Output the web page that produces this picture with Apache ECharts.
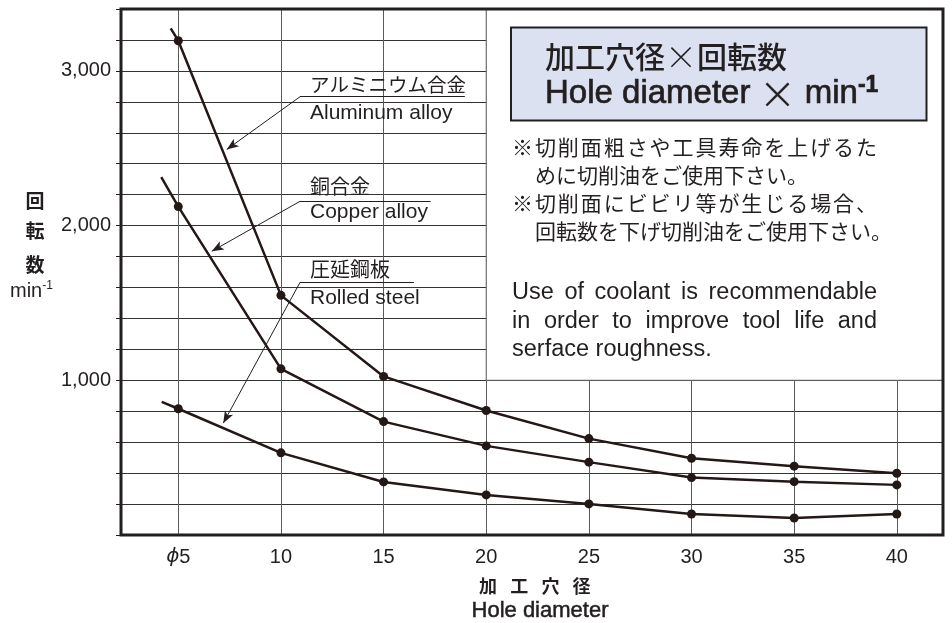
<!DOCTYPE html>
<html><head><meta charset="utf-8">
<script src="https://cdn.jsdelivr.net/npm/echarts@6/dist/echarts.min.js"></script>
<style>html,body{margin:0;padding:0;background:#fff}#c{width:952px;height:623px}</style>
</head><body><div id="c"></div><script>
// ---- data ----
const holeDiameters = [5, 10, 15, 20, 25, 30, 35, 40];
const xTickLabels = ['ϕ5', '10', '15', '20', '25', '30', '35', '40'];
const aluminum = [3195, 1549, 1025, 805, 623, 496, 445, 399];
const copper = [2123, 1074, 733, 576, 471, 371, 345, 324];
const rolledSteel = [816, 531, 343, 259, 201, 136, 110, 136];
// start of each drawn curve, a little left of the first point
const aluminumLead = [4.63, 3275];
const copperLead = [4.17, 2313];
const rolledSteelLead = [4.19, 861];
const yLabelValues = [1000, 2000, 3000];
// leader lines: underline end, knee, arrow tip (data coords)
const aluminumLeader = [[18.96, 2833], [10.93, 2833], [7.36, 2492]];
const copperLeader = [[17.29, 2157], [10.93, 2157], [6.63, 1834]];
const rolledSteelLeader = [[16.48, 1633], [10.93, 1633], [7.19, 723]];
// white note panel corner (data coords)
const panelFrom = [20, 1000];

const X_MIN = 2.209, X_MAX = 42.25, Y_MIN = 0, Y_MAX = 3400;
const INK = '#231f20';
const LAT = '"Liberation Sans", Arial, Helvetica, sans-serif';
const JP = '"Noto Sans CJK JP", sans-serif';

const cv = document.createElement('canvas').getContext('2d');
function tw(t, font) { cv.font = font; return cv.measureText(t).width; }

function txt(t, x, y, font, opts) {
  opts = opts || {};
  const st = { text: t, x: x, y: y, font: font, fill: INK, textVerticalAlign: 'middle', textAlign: opts.align || 'left' };
  if (opts.stroke) { st.stroke = INK; st.lineWidth = opts.stroke; }
  if (opts.rich) st.rich = opts.rich;
  return { type: 'text', z: 100, silent: true, style: st };
}
function justify(tokens, x0, x1, y, font) {
  const w = tokens.map(t => tw(t, font));
  const tot = w.reduce((a, b) => a + b, 0);
  const gap = (x1 - x0 - tot) / (tokens.length - 1);
  let x = x0;
  return tokens.map((t, i) => { const e = txt(t, x, y, font); x += w[i] + gap; return e; });
}

function build(lead, vals) {
  return [{ value: lead, symbol: 'none' }].concat(holeDiameters.map((x, i) => [x, vals[i]]));
}
function leader(pts) {
  return [
    [{ coord: pts[0] }, { coord: pts[1] }],
    [{ coord: pts[1] }, { coord: pts[2], symbol: 'arrow', symbolSize: [7, 12] }]
  ];
}

const lineSeries = (name, data) => ({
  type: 'line', name: name, data: data, z: 3,
  symbol: 'circle', symbolSize: 9, showSymbol: true,
  lineStyle: { color: '#231815', width: 2.5 },
  itemStyle: { color: '#231815' }
});

const jpF = '21px ' + JP;
const enF = '23.5px ' + LAT;
const graphics = [
  { type: 'rect', z: 99, silent: true, shape: { x: 511, y: 27.5, width: 415.5, height: 93 },
    style: { fill: '#dce1f2', stroke: INK, lineWidth: 2 } },
  txt('加工穴径{x|×}回転数', 545, 57, '500 30px ' + JP, { rich: {
    x: { fontSize: 32, fontFamily: JP, fontWeight: 300, fill: INK } } }),
  txt('Hole diameter {x|×} min{s|-1}', 545, 94, '33px ' + LAT, { stroke: 0.7, rich: {
    x: { fontSize: 36, fontFamily: JP, fontWeight: 300, fill: INK },
    s: { fontSize: 23, fontFamily: LAT, fill: INK, fontWeight: 'bold', verticalAlign: 'top', padding: [0, 0, 16, 0] } } }),
  ...justify(Array.from('※切削面粗さや工具寿命を上げるた'), 512, 877, 147, jpF),
  txt('めに切削油をご使用下さい。', 535, 175, jpF),
  ...justify(Array.from('※切削面にビビリ等が生じる場合、'), 512, 877, 203, jpF),
  txt('回転数を下げ切削油をご使用下さい。', 535, 231, jpF),
  ...justify('Use of coolant is recommendable'.split(' '), 512, 877, 293, enF),
  ...justify('in order to improve tool life and'.split(' '), 512, 877, 322, enF),
  txt('serface roughness.', 512, 350, enF),
  // curve annotations
  txt('アルミニウム合金', 310, 85, '19.5px ' + JP),
  txt('Aluminum alloy', 310, 113, '21px ' + LAT),
  txt('銅合金', 310, 186, '20px ' + JP),
  txt('Copper alloy', 310, 212.5, '21px ' + LAT),
  txt('圧延鋼板', 310, 269, '20px ' + JP),
  txt('Rolled steel', 310, 298, '21px ' + LAT),
  // y axis name
  txt('回', 35, 200.5, 'bold 19px ' + JP, { align: 'center' }),
  txt('転', 35, 231, 'bold 19px ' + JP, { align: 'center' }),
  txt('数', 35, 264.5, 'bold 19px ' + JP, { align: 'center' }),
  txt('min{s|-1}', 10, 291, '20px ' + LAT, { rich: {
    s: { fontSize: 12, fontFamily: LAT, fill: INK, verticalAlign: 'top', padding: [0, 0, 10, 0] } } }),
  // x axis name
  ...['加', '工', '穴', '径'].map((c, i) => txt(c, 488 + i * 31.2, 586.5, 'bold 18px ' + JP, { align: 'center' })),
  txt('Hole diameter', 540, 611, '22px ' + LAT, { align: 'center', stroke: 0.5 })
];

const chart = echarts.init(document.getElementById('c'), null, { renderer: 'canvas' });
chart.setOption({
  animation: false,
  backgroundColor: '#fff',
  grid: { left: 121, right: 9, top: 9, bottom: 88, show: true, z: 5,
    backgroundColor: 'transparent', borderColor: INK, borderWidth: 3 },
  xAxis: {
    type: 'value', min: X_MIN, max: X_MAX,
    axisLine: { show: false },
    axisTick: { show: false, customValues: holeDiameters },
    axisLabel: { customValues: holeDiameters, margin: 12, fontSize: 20, fontFamily: LAT, color: INK,
      formatter: v => {
        const i = holeDiameters.indexOf(v);
        const s = i >= 0 ? xTickLabels[i] : '';
        return s.startsWith('ϕ') ? '{p|ϕ}' + s.slice(1) : s;
      },
      rich: { p: { fontStyle: 'italic', fontSize: 20, fontFamily: '"DejaVu Sans", ' + LAT, color: INK } } },
    splitLine: { show: true, lineStyle: { color: '#5a5a5a', width: 1 } }
  },
  yAxis: {
    type: 'value', min: Y_MIN, max: Y_MAX, interval: 200,
    axisLine: { show: false },
    axisTick: { show: true, length: 5, lineStyle: { color: INK, width: 1 } },
    axisLabel: { margin: 10, fontSize: 20, fontFamily: LAT, color: INK,
      formatter: v => yLabelValues.includes(v) ? v.toLocaleString('en-US') : '' },
    splitLine: { show: true, lineStyle: { color: '#333', width: 1 } }
  },
  series: [
    { type: 'line', data: [], z: 2, silent: true,
      markArea: { silent: true, itemStyle: { color: '#fff', borderColor: '#5a5a5a', borderWidth: 1 },
        data: [[{ coord: panelFrom }, { coord: [X_MAX, Y_MAX] }]] } },
    lineSeries('Aluminum alloy', build(aluminumLead, aluminum)),
    lineSeries('Copper alloy', build(copperLead, copper)),
    lineSeries('Rolled steel', build(rolledSteelLead, rolledSteel)),
    { type: 'line', data: [], z: 4, silent: true,
      markLine: { silent: true, symbol: ['none', 'none'], label: { show: false },
        lineStyle: { color: INK, width: 1, type: 'solid' }, emphasis: { disabled: true },
        data: [...leader(aluminumLeader), ...leader(copperLeader), ...leader(rolledSteelLeader)] } }
  ],
  graphic: graphics
});
</script></body></html>
